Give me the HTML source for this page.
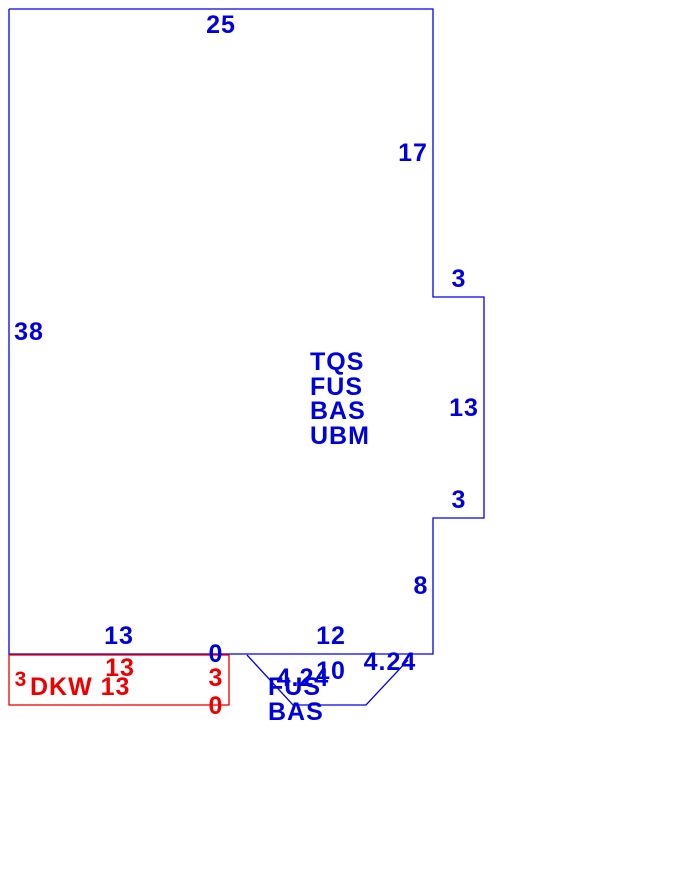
<!DOCTYPE html><html><head><style>body{margin:0;background:#fff}</style></head><body>
<svg width="696" height="875" xmlns="http://www.w3.org/2000/svg" font-family="Liberation Sans, sans-serif" font-weight="bold" font-size="25" letter-spacing="1">
<polyline points="9,9 433,9 433,297 484,297 484,518 433,518 433,654 9,654 9,9" fill="none" stroke="#0000ee" stroke-width="1.3"/>
<polyline points="247,655 293,705 366,705 408,660" fill="none" stroke="#0000ee" stroke-width="1.3"/>
<rect x="9" y="655" width="220" height="50" fill="none" stroke="#ee0000" stroke-width="1.3"/>
<g fill="#0000dd" text-anchor="middle">
<text x="221" y="33">25</text>
<text x="413" y="161">17</text>
<text x="459" y="287">3</text>
<text x="29" y="340">38</text>
<text x="464" y="416">13</text>
<text x="459" y="508">3</text>
<text x="421" y="594">8</text>
<text x="119" y="644">13</text>
<text x="331" y="644">12</text>
<text x="216" y="662">0</text>
<text x="390" y="670">4.24</text>
<text x="331" y="679">10</text>
<text x="303" y="686">4.24</text>
</g>
<g fill="#0000dd">
<text x="310" y="370">TQS</text>
<text x="310" y="395">FUS</text>
<text x="310" y="419">BAS</text>
<text x="310" y="444">UBM</text>
<text x="268" y="695">FUS</text>
<text x="268" y="720">BAS</text>
</g>
<g fill="#ee0000" text-anchor="middle">
<text x="21" y="686" font-size="21">3</text>
<text x="120" y="676">13</text>
<text x="216" y="686">3</text>
<text x="216" y="714">0</text>
</g>
<text x="30" y="695" fill="#ee0000">DKW 13</text>
</svg></body></html>
